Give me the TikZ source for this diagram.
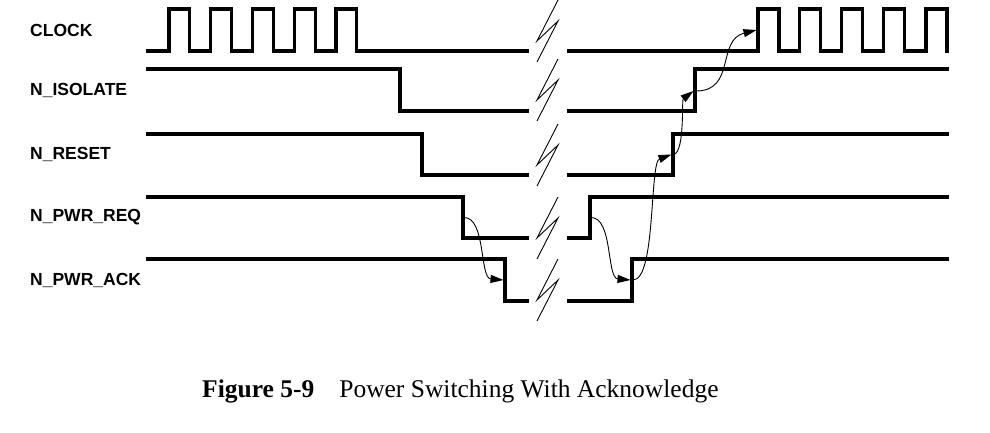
\documentclass[tikz,border=0pt]{standalone}
\usepackage{fontspec}
\setmainfont{Liberation Serif}
\setsansfont{Liberation Sans}
\usepackage{tikz}
\usetikzlibrary{arrows.meta,positioning}

\begin{document}
\begin{tikzpicture}[x=1pt,y=-1pt,
    sig/.style={line width=3.2pt,line join=miter,line cap=rect},
    brk/.style={line width=0.9pt},
    cause/.style={line width=0.9pt,-{Triangle[length=13pt,width=8pt]}},
    lab/.style={font=\sffamily\bfseries\fontsize{17.5}{20}\selectfont,anchor=west,inner sep=0pt}]
  \useasboundingbox (0,0) rectangle (990,432);
  % Signal names
  \node[lab] (lclk) at (30,30) {CLOCK};
  \node[lab] (liso) at (30,90) {N\_ISOLATE};
  \node[lab] (lrst) at (30,154.5) {N\_RESET};
  \node[lab] (lreq) at (30,217.5) {N\_PWR\_REQ};
  \node[lab] (lack) at (30,280) {N\_PWR\_ACK};
  % CLOCK (high 9, low 51)
  \draw[sig] (148,51) foreach \x in {169,210.8,252.5,294.3,336} {
    -- (\x,51) -- (\x,9) -- (\x+20.8,9) -- (\x+20.8,51)} -- (527,51);
  \draw[sig] (569,51) foreach \x in {758,799.8,841.5,883.3,926} {
    -- (\x,51) -- (\x,9) -- (\x+21,9) -- (\x+21,51)};
  % N_ISOLATE
  \draw[sig] (148,69) -- (400,69) -- (400,111) -- (527,111);
  \draw[sig] (569,111) -- (695,111) -- (695,69) -- (947,69);
  % N_RESET
  \draw[sig] (148,134) -- (422,134) -- (422,175) -- (527,175);
  \draw[sig] (569,175) -- (673,175) -- (673,134) -- (947,134);
  % N_PWR_REQ
  \draw[sig] (148,197) -- (463,197) -- (463,238) -- (527,238);
  \draw[sig] (569,238) -- (590,238) -- (590,197) -- (947,197);
  % N_PWR_ACK
  \draw[sig] (148,259) -- (505,259) -- (505,301) -- (527,301);
  \draw[sig] (569,301) -- (632,301) -- (632,259) -- (947,259);
  % Time breaks
  \foreach \t in {0,59,124,197,259} {
    \draw[brk] (558,\t) -- (537,\t+41) -- (558,\t+21) -- (537,\t+62);
  }
  % Edges that cause one another
  \coordinate (reqF) at (464,217.5);
  \coordinate (ackF) at (503.5,280);
  \coordinate (reqR) at (591,217.5);
  \coordinate (ackR) at (630.5,280);
  \coordinate (ackRs) at (633,280);
  \coordinate (rstR) at (671.5,154.5);
  \coordinate (rstRs) at (674,154.5);
  \coordinate (isoR) at (693.5,91);
  \coordinate (isoRs) at (696,91);
  \coordinate (clkR) at (756.5,30);
  \draw[cause] (reqF) .. controls +(22,0) and +(-24,-2) .. (ackF);
  \draw[cause] (reqR) .. controls +(22,0) and +(-24,-2) .. (ackR);
  \draw[cause] (ackRs) .. controls +(23,0) and +(-22,8) .. (rstR);
  \draw[cause] (rstRs) .. controls +(11,-4) and +(-12,9) .. (isoR);
  \draw[cause] (isoRs) .. controls +(40,0) and +(-40,10) .. (clkR);
  % Caption
  \node[anchor=base west,inner sep=0pt,font=\fontsize{25.5}{30}\selectfont] (cap) at (202,397)
    {\textbf{Figure 5-9}\hspace{25pt}Power Switching With Acknowledge};
\end{tikzpicture}
\end{document}
